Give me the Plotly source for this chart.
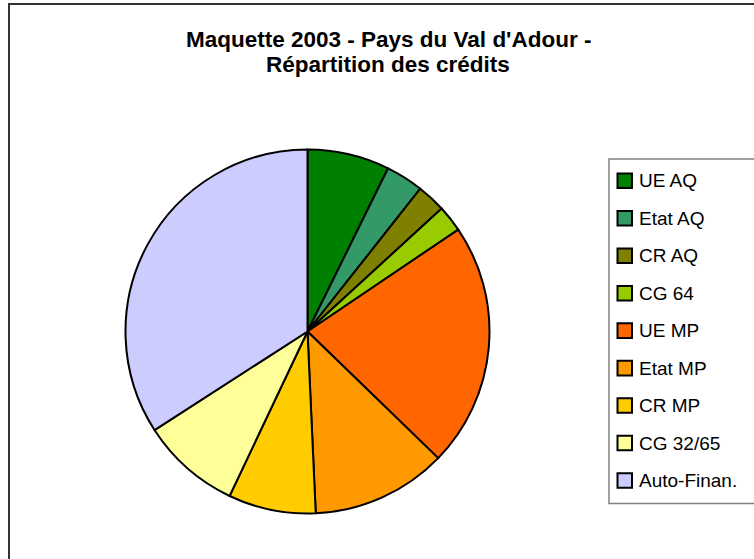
import plotly.graph_objects as go

W, H = 754, 559

title_lines = ["Maquette 2003 - Pays du Val d'Adour -", "Répartition des crédits"]
labels = ["UE AQ", "Etat AQ", "CR AQ", "CG 64", "UE MP", "Etat MP", "CR MP", "CG 32/65", "Auto-Finan."]
values = [7.30, 3.34, 2.55, 2.35, 21.71, 12.03, 7.76, 8.85, 34.11]
colors = ["#008000", "#339966", "#808000", "#99CC00", "#FF6600", "#FF9900", "#FFCC00", "#FFFF99", "#CCCCFF"]


def px(x):
    return x / W


def py(y):
    return 1 - y / H


cx, cy, r = 307.5, 331.5, 182

fig = go.Figure()
fig.add_trace(go.Pie(
    labels=labels,
    values=values,
    marker=dict(colors=colors, line=dict(color="black", width=2)),
    sort=False,
    direction="clockwise",
    rotation=0,
    textinfo="none",
    showlegend=False,
    domain=dict(x=[px(cx - r), px(cx + r)], y=[py(cy + r), py(cy - r)]),
))

shapes = []
# outer chart frame (cropped on right and bottom)
shapes.append(dict(type="rect", xref="paper", yref="paper",
                   x0=px(9), x1=px(W + 20), y0=py(H + 20), y1=py(4),
                   line=dict(color="#333333", width=2), fillcolor="rgba(0,0,0,0)", layer="below"))
# legend box
shapes.append(dict(type="rect", xref="paper", yref="paper",
                   x0=px(609), x1=px(W + 20), y0=py(503.5), y1=py(159),
                   line=dict(color="#808080", width=1.5), fillcolor="white", layer="below"))

annotations = []
for i, (lab, col) in enumerate(zip(labels, colors)):
    yc = 180.8 + i * 37.46
    shapes.append(dict(type="rect", xref="paper", yref="paper",
                       x0=px(617.5), x1=px(632), y0=py(yc + 7.3), y1=py(yc - 7.3),
                       line=dict(color="black", width=2), fillcolor=col))
    annotations.append(dict(xref="paper", yref="paper", x=px(637), y=py(yc),
                            text=lab, showarrow=False, xanchor="left", yanchor="middle",
                            font=dict(family="Liberation Sans, Arial", size=19, color="black")))

for j, (t, yc) in enumerate(zip(title_lines, [39, 65])):
    annotations.append(dict(xref="paper", yref="paper", x=px(388), y=py(yc),
                            text="<b>" + t + "</b>", showarrow=False, xanchor="center", yanchor="middle",
                            font=dict(family="Liberation Sans, Arial", size=22.5, color="black")))

fig.update_layout(
    width=W, height=H,
    margin=dict(l=0, r=0, t=0, b=0),
    paper_bgcolor="white",
    plot_bgcolor="white",
    shapes=shapes,
    annotations=annotations,
)

fig.write_html("out.html", config={"displayModeBar": False},
               post_script="document.body.style.margin='0px';document.body.style.overflow='hidden';")
